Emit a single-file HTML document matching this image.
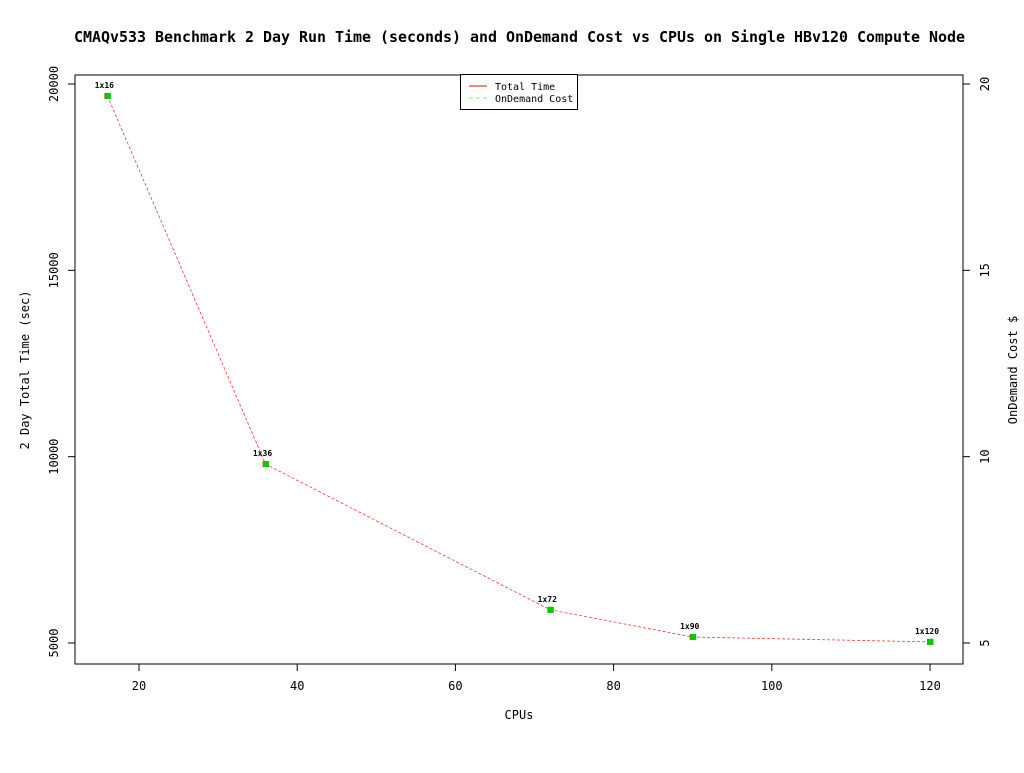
<!DOCTYPE html>
<html><head><meta charset="utf-8"><style>
body{margin:0;background:#fff;}
svg text{font-family:"DejaVu Sans Mono","Liberation Mono",monospace;}
</style></head><body>
<svg width="1024" height="768" id="c">
<text x="74" y="42" font-size="14.8" font-weight="bold" textLength="891" lengthAdjust="spacingAndGlyphs">CMAQv533 Benchmark 2 Day Run Time (seconds) and OnDemand Cost vs CPUs on Single HBv120 Compute Node</text>
<rect x="75" y="75" width="888" height="589" fill="none" stroke="#000"/>
<g id="ax"></g>
<g id="marks"></g>
<text x="519" y="719" text-anchor="middle" font-size="12">CPUs</text>
<text transform="translate(29,370) rotate(-90)" text-anchor="middle" font-size="12">2 Day Total Time (sec)</text>
<text transform="translate(1017,370) rotate(-90)" text-anchor="middle" font-size="12">OnDemand Cost $</text>
<g>
<rect x="460.5" y="74.5" width="117" height="35" fill="#fff" stroke="#000"/>
<line x1="469" y1="86" x2="487" y2="86" stroke="#f00"/>
<line x1="469" y1="98" x2="487" y2="98" stroke="#6f6" stroke-dasharray="4,3"/>
<text x="495" y="90" font-size="10">Total Time</text>
<text x="495" y="102" font-size="10">OnDemand Cost</text>
</g>
</svg>
<script>
const cpus=[16,36,72,90,120];
const times=[19680,9800,5890,5160,5030];
const costs=[19.68,9.8,5.89,5.16,5.03];
const labels=["1x16","1x36","1x72","1x90","1x120"];
const xTicks=[20,40,60,80,100,120];
const yTicks=[5000,10000,15000,20000];
const y2Ticks=[5,10,15,20];
const NS="http://www.w3.org/2000/svg";
const X=v=>139+(v-20)*(930-139)/100;
const Y=v=>643-(v-5000)*(643-84)/15000;
const Y2=v=>643-(v-5)*(643-84)/15;
function mk(t,a,p,txt){const e=document.createElementNS(NS,t);for(const k in a)e.setAttribute(k,a[k]);if(txt!==undefined)e.textContent=txt;p.appendChild(e);return e;}
const ax=document.getElementById('ax'),mg=document.getElementById('marks');
xTicks.forEach(v=>{const g=mk('g',{},ax);


mk('line',{x1:X(v),x2:X(v),y1:664,y2:671,stroke:'#000'},g);
mk('text',{x:X(v),y:690,'text-anchor':'middle','font-size':12},g,v);});
yTicks.forEach(v=>{const g=mk('g',{},ax);


mk('line',{x1:68,x2:75,y1:Y(v),y2:Y(v),stroke:'#000'},g);
mk('text',{transform:`translate(58,${Y(v)}) rotate(-90)`,'text-anchor':'middle','font-size':12},g,v);});
y2Ticks.forEach(v=>{const g=mk('g',{},ax);


mk('line',{x1:963,x2:970,y1:Y2(v),y2:Y2(v),stroke:'#000'},g);
mk('text',{transform:`translate(989,${Y2(v)}) rotate(-90)`,'text-anchor':'middle','font-size':12},g,v);});
const pl=mk('polyline',{points:cpus.map((c,i)=>X(c)+','+Y(times[i])).join(' '),fill:'none',stroke:'#f33','stroke-dasharray':'3,2','stroke-width':0.8},mg);


cpus.forEach((c,i)=>{const r=mk('rect',{x:X(c)-3,y:Y(times[i])-3,width:6,height:6,fill:'#f33'},mg);


const s=mk('rect',{x:X(c)-2.5,y:Y2(costs[i])-3,width:6,height:6,fill:'#0c0'},mg);


const t=mk('text',{x:X(c)-3,y:Y(times[i])-8,'text-anchor':'middle','font-size':8,'font-weight':'bold'},mg,labels[i]);

});
</script>
</body></html>
